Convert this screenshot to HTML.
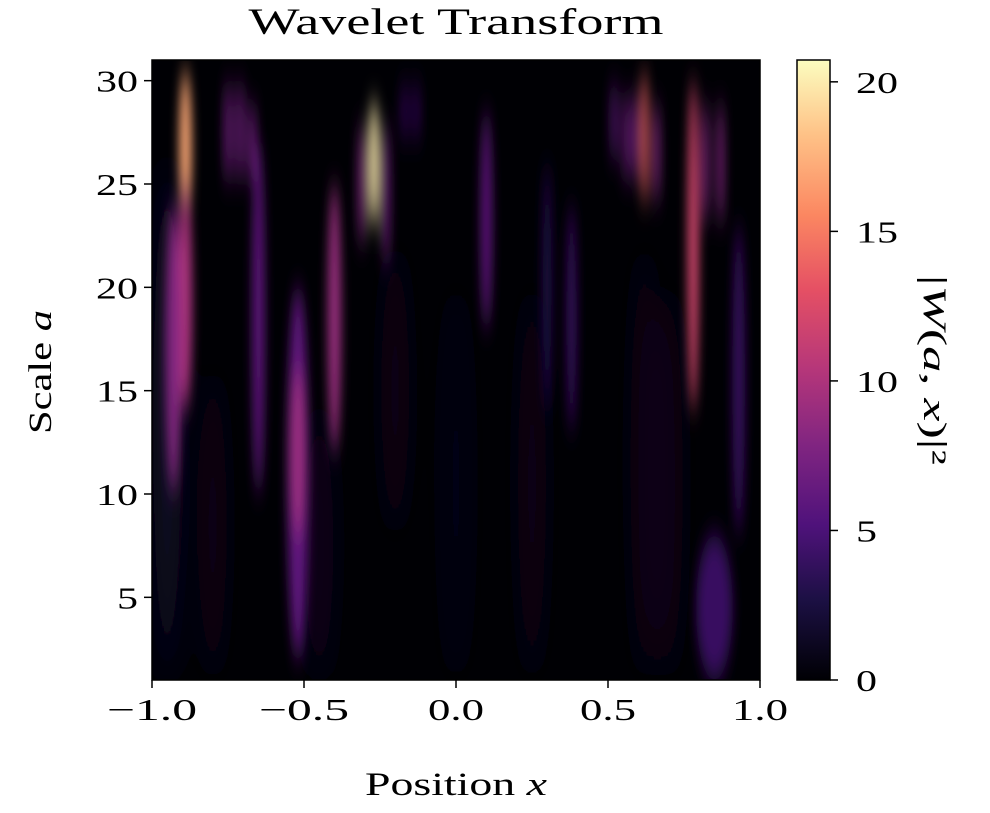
<!DOCTYPE html>
<html><head><meta charset="utf-8">
<style>
body{margin:0;background:#fff;}
svg text{font-family:"Liberation Serif",serif;fill:#000;}
</style></head>
<body>
<svg id="chart" width="990" height="808" viewBox="0 0 990 808" xmlns="http://www.w3.org/2000/svg">
<defs>
<linearGradient id="magma" x1="0" y1="1" x2="0" y2="0">
<stop offset="0" stop-color="#000004"/><stop offset="0.13" stop-color="#1c1044"/>
<stop offset="0.25" stop-color="#4f127b"/><stop offset="0.38" stop-color="#812581"/>
<stop offset="0.5" stop-color="#b5367a"/><stop offset="0.63" stop-color="#e55064"/>
<stop offset="0.75" stop-color="#fb8761"/><stop offset="0.88" stop-color="#fec287"/>
<stop offset="1" stop-color="#fcfdbf"/></linearGradient>
<filter id="blur" x="-50%" y="-20%" width="200%" height="140%"><feGaussianBlur stdDeviation="5 14"/></filter>
<filter id="blur2" x="-50%" y="-20%" width="200%" height="140%"><feGaussianBlur stdDeviation="12 20"/></filter>
<clipPath id="plotclip"><rect x="152" y="60" width="608" height="620"/></clipPath>
</defs>
<g id="plot"></g>
</svg>
<script>
// ridge data: position x, top scale, bottom scale, peak |W|^2, width (in x units)
const ridgeX    = [-0.89,-0.89,-0.93,-0.75,-0.71,-0.67,-0.65,-0.52,-0.52,-0.40,-0.27,-0.31,-0.23,-0.17,-0.13,0.10,0.30,0.38,0.52,0.56,0.59,0.62,0.66,0.78,0.82,0.87,0.93,0.85];
const ridgeTop  = [30.5,25,24,30,30,29,27,20,16,25,29,28,28,30,30,28.5,26,24,30,29.5,29.5,30.5,29,30,29,29,23,8];
const ridgeBot  = [23,14,10,25,25,25,10,2,8,12,23,22,21,27,27,18,14,13,26,25,25,24,24,14,23,23,8,1];
const ridgePeak = [17,10,8,7,7,7,6,6,9,9,20,8,7,4,4,6,3,4,6,7,7,14,8,12,8,8,4,4];
const ridgeW    = [0.02,0.022,0.025,0.012,0.012,0.012,0.02,0.035,0.025,0.022,0.016,0.012,0.012,0.01,0.01,0.018,0.015,0.016,0.01,0.01,0.01,0.011,0.011,0.018,0.011,0.011,0.02,0.06];
// faint background haze
const hazeX    = [-0.95,-0.80,-0.45,-0.20,0.0,0.25,0.62,0.70];
const hazeTop  = [26,16,14,22,20,20,22,20];
const hazeBot  = [1,1,1,8,1,1,1,1];
const hazePeak = [1.5,0.8,1,0.8,0.6,0.8,0.8,0.8];
const xTicks = [-1.0,-0.5,0.0,0.5,1.0];
const xTickLabels = ["\u22121.0","\u22120.5","0.0","0.5","1.0"];
const yTicks = [5,10,15,20,25,30];
const cTicks = [0,5,10,15,20];

const X0=152,X1=760,Y0=680,Y1=60;
const xs=v=>X0+(v+1)/2*(X1-X0);
const ys=v=>Y0-(v-1)/30*(Y0-Y1);
const CB0=680,CB1=60,CMAX=20.73;
const cs=v=>CB0-v/CMAX*(CB0-CB1);
const stops=[[0,[0,0,4]],[0.13,[28,16,68]],[0.25,[79,18,123]],[0.38,[129,37,129]],[0.5,[181,54,122]],[0.63,[229,80,100]],[0.75,[251,135,97]],[0.88,[254,194,135]],[1,[252,253,191]]];
function magma(t){t=Math.max(0,Math.min(1,t));for(let i=1;i<stops.length;i++){if(t<=stops[i][0]){const a=stops[i-1],b=stops[i],f=(t-a[0])/(b[0]-a[0]);return 'rgb('+a[1].map((c,k)=>Math.round(c+(b[1][k]-c)*f)).join(',')+')';}}return 'rgb(252,253,191)';}
const NS='http://www.w3.org/2000/svg';
const g=document.getElementById('plot');
function mk(tag,attrs,parent){const e=document.createElementNS(NS,tag);for(const k in attrs)e.setAttribute(k,attrs[k]);(parent||g).appendChild(e);return e;}

const bg=mk('rect',{x:X0,y:Y1,width:X1-X0,height:Y0-Y1,fill:'#000004'});


const hg=mk('g',{'clip-path':'url(#plotclip)'});


const haze=mk('g',{filter:'url(#blur2)'},hg);
for(let i=0;i<hazeX.length;i++){
  const cy=(ys(hazeTop[i])+ys(hazeBot[i]))/2, ry=(ys(hazeBot[i])-ys(hazeTop[i]))/2;
  const e=mk('ellipse',{cx:xs(hazeX[i]),cy:cy,rx:14,ry:ry,fill:magma(hazePeak[i]/CMAX)},haze);
  
  
}
const inner=mk('g',{filter:'url(#blur)'},hg);
for(let i=0;i<ridgeX.length;i++){
  const cy=(ys(ridgeTop[i])+ys(ridgeBot[i]))/2, ry=(ys(ridgeBot[i])-ys(ridgeTop[i]))/2;
  const rx=ridgeW[i]/2*(X1-X0);
  const e=mk('ellipse',{cx:xs(ridgeX[i]),cy:cy,rx:rx,ry:ry,fill:magma(ridgePeak[i]/CMAX)},inner);
  
  
}
const fr=mk('rect',{x:X0,y:Y1,width:X1-X0,height:Y0-Y1,fill:'none',stroke:'#000','stroke-width':1.5});



xTicks.forEach((v,i)=>{
  const l=mk('line',{x1:xs(v),x2:xs(v),y1:Y0,y2:Y0+8,stroke:'#000','stroke-width':1.5});
  
  
  const t=mk('text',{x:xs(v),y:Y0+40,'text-anchor':'middle','font-size':31,textLength:xTickLabels[i].length>3?90:56,lengthAdjust:'spacingAndGlyphs'});
  t.textContent=xTickLabels[i];
  
  
});
yTicks.forEach(v=>{
  const l=mk('line',{x1:X0-8,x2:X0,y1:ys(v),y2:ys(v),stroke:'#000','stroke-width':1.5});
  
  
  const s=String(v);
  const t=mk('text',{x:X0-14,y:ys(v)+11,'text-anchor':'end','font-size':31,textLength:s.length*21,lengthAdjust:'spacingAndGlyphs'});
  t.textContent=s;
  
  
});
const cb=mk('rect',{x:797,y:CB1,width:33,height:CB0-CB1,fill:'url(#magma)',stroke:'#000','stroke-width':1.5});


cTicks.forEach(v=>{
  const l=mk('line',{x1:830,x2:838,y1:cs(v),y2:cs(v),stroke:'#000','stroke-width':1.5});
  
  
  const s=String(v);
  const t=mk('text',{x:856,y:cs(v)+11,'font-size':31,textLength:s.length*21,lengthAdjust:'spacingAndGlyphs'});
  t.textContent=s;
  
  
});
const title=mk('text',{x:456,y:34,'text-anchor':'middle','font-size':37,textLength:415,lengthAdjust:'spacingAndGlyphs'});
title.textContent='Wavelet Transform';


const xl=mk('text',{x:456,y:795,'text-anchor':'middle','font-size':33,textLength:182,lengthAdjust:'spacingAndGlyphs'});
xl.innerHTML='Position <tspan font-style="italic">x</tspan>';


const yl=mk('text',{x:0,y:0,'text-anchor':'middle','font-size':33,textLength:124,lengthAdjust:'spacingAndGlyphs',transform:'translate(51,372) rotate(-90)'});
yl.innerHTML='Scale <tspan font-style="italic">a</tspan>';


const cl=mk('text',{x:0,y:0,'text-anchor':'middle','font-size':33,textLength:190,lengthAdjust:'spacingAndGlyphs',transform:'translate(924,370) rotate(90)'});
cl.innerHTML='|<tspan font-style="italic">W</tspan>(<tspan font-style="italic">a</tspan>, <tspan font-style="italic">x</tspan>)|²';


</script>
</body></html>
